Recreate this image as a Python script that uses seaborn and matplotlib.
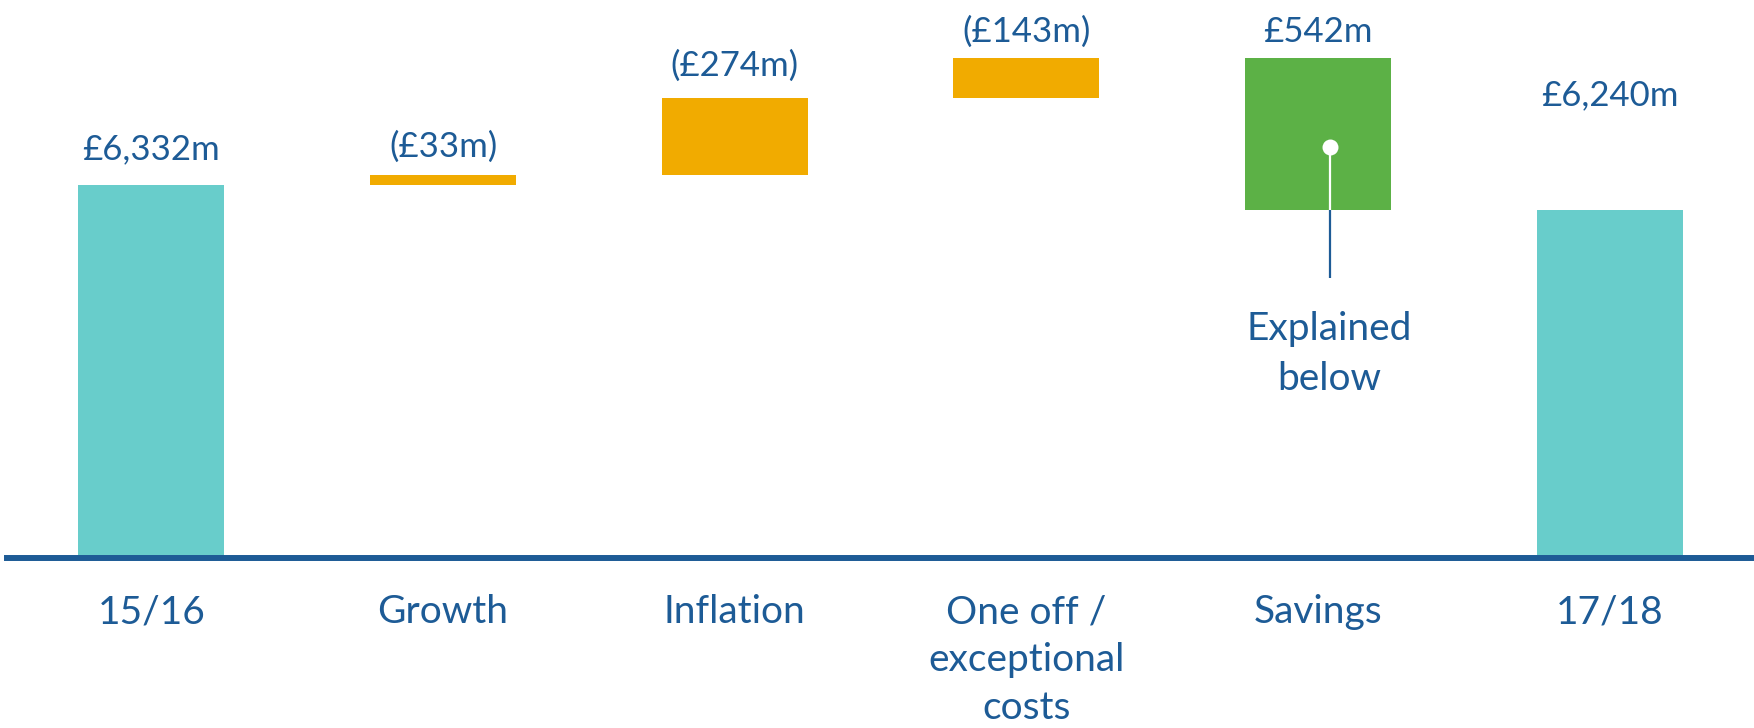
import matplotlib
matplotlib.use("Agg")
import matplotlib.pyplot as plt
import seaborn as sns
import numpy as np
import pandas as pd

# ---- data ----
categories = ["15/16", "Growth", "Inflation", "One off /\nexceptional\ncosts", "Savings", "17/18"]
start_total = 6332
changes = [33, 274, 143, -542]          # cost pressures (+) and savings (-), £m
end_total = 6240
value_labels = ["£6,332m", "(£33m)", "(£274m)", "(£143m)", "£542m", "£6,240m"]
bar_kind = ["total", "pressure", "pressure", "pressure", "saving", "total"]
note_text = "Explained\nbelow"

# ---- styling ----
NAVY = "#1D5B96"
colors = {"total": "#68CDCB", "pressure": "#F1AB00", "saving": "#5CB146"}
label_offsets_px = [25, 18, 23, 16, 16, 105]

# waterfall geometry from data
bottoms, heights = [0], [start_total]
running = start_total
for c in changes:
    bottoms.append(running)
    heights.append(c)
    running += c
bottoms.append(0)
heights.append(end_total)
tops = [max(b, b + h) for b, h in zip(bottoms, heights)]

df = pd.DataFrame({"category": categories, "height": heights})

sns.set_theme(style="white")
plt.rcParams["font.family"] = ["Lato", "DejaVu Sans"]

fig = plt.figure(figsize=(17.54, 7.28), dpi=100)
ax = fig.add_axes([7 / 1754, 170 / 728, 1 - 7 / 1754, 558 / 728])

sns.barplot(data=df, x="category", y="height", order=categories, bottom=bottoms,
            color=colors["total"], errorbar=None, width=0.5, ax=ax, linewidth=0,
            saturation=1)
for patch, kind in zip(ax.patches, bar_kind):
    patch.set_facecolor(colors[kind])
    patch.set_edgecolor("none")

ax.set_ylim(5000, 6990)
ax.set_xlim(-0.495, 5.495)
ax.set_xlabel("")
ax.set_ylabel("")
ax.set_yticks([])
ax.set_xticks(range(len(categories)))
ax.set_xticklabels(categories, fontsize=28, color=NAVY, linespacing=1.42)
ax.tick_params(axis="x", length=0, pad=26)

for s in ["top", "right", "left"]:
    ax.spines[s].set_visible(False)
ax.spines["bottom"].set_color(NAVY)
ax.spines["bottom"].set_linewidth(4.3)

for i, (lab, top, off) in enumerate(zip(value_labels, tops, label_offsets_px)):
    ax.annotate(lab, xy=(i, top), xytext=(0, off * 0.72), textcoords="offset points",
                ha="center", va="baseline", fontsize=25, color=NAVY)

# callout on the savings bar
si = bar_kind.index("saving")
sx = si + 0.04
s_bottom = min(bottoms[si], bottoms[si] + heights[si])
dot_y = 6467
ax.plot([sx, sx], [dot_y, s_bottom], color="white", lw=1.6, solid_capstyle="butt", zorder=5)
ax.plot([sx, sx], [s_bottom, 5997], color=NAVY, lw=1.6, solid_capstyle="butt", zorder=5)
ax.plot([sx], [dot_y], marker="o", markersize=11.5, color="white", markeredgewidth=0, zorder=6)
ax.text(sx, 5880, note_text, ha="center", va="top", fontsize=28, color=NAVY,
        linespacing=1.48)

fig.savefig("out.png", dpi=100, facecolor="white")
